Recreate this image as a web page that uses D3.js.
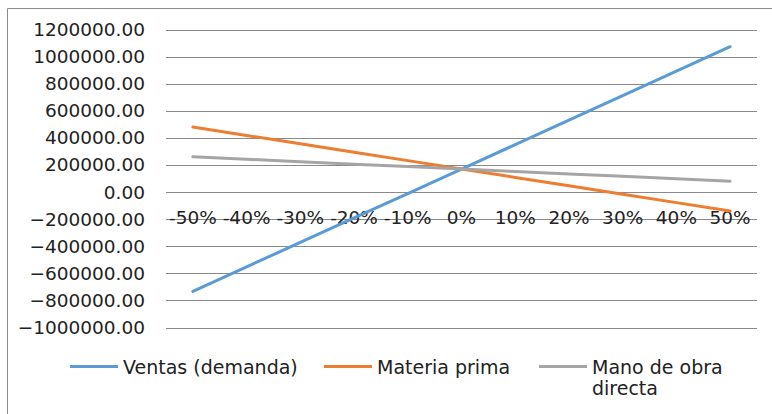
<!DOCTYPE html>
<html>
<head>
<meta charset="utf-8">
<script src="https://cdn.jsdelivr.net/npm/d3@7"></script>
<style>
  body { margin: 0; background: #fff; }
</style>
</head>
<body>
<div id="chart"></div>
<script>
// categories (change %) and series values
var categories = ['-50%', '-40%', '-30%', '-20%', '-10%', '0%', '10%', '20%', '30%', '40%', '50%'];
var ventas = [-733000, -552000, -372000, -191000, -11000, 170000, 350000, 531000, 712000, 892000, 1073000];
var materia = [480000, 418000, 356000, 294000, 232000, 170000, 108000, 46000, -16000, -78000, -140000];
var manoObra = [260000, 242000, 224000, 206000, 188000, 170000, 152000, 134000, 116000, 98000, 80000];
var yTicks = [1200000, 1000000, 800000, 600000, 400000, 200000, 0, -200000, -400000, -600000, -800000, -1000000];
var seriesNames = ['Ventas (demanda)', 'Materia prima', 'Mano de obra directa'];

var width = 772;
var height = 414;
var colors = ['#5b9bd5', '#ed7d31', '#a5a5a5'];
var gridColor = '#8a8a8a';
var font = 'DejaVu Sans';

var svg = d3.select('#chart').append('svg')
  .attr('width', width)
  .attr('height', height);

// chart border (right / bottom fall outside the picture)
svg.append('path')
  .attr('d', 'M7.5,' + height + 'V8.5H' + width)
  .style('fill', 'none')
  .style('stroke', '#8c8c8c')
  .style('stroke-width', 1);

var x = d3.scaleBand()
  .domain(categories)
  .range([166, 757]);

var y = d3.scaleLinear()
  .domain([-1000000, 1200000])
  .range([327.5, 29.5]);

function cx(d) { return x(d) + x.bandwidth() / 2; }

// gridlines
svg.append('g')
  .selectAll('line')
  .data(yTicks)
  .enter()
  .append('line')
  .attr('x1', 166)
  .attr('x2', 757)
  .attr('y1', function (d) { return Math.round(y(d)) + 0.5; })
  .attr('y2', function (d) { return Math.round(y(d)) + 0.5; })
  .style('stroke', gridColor)
  .style('stroke-width', 1);

// y axis labels
svg.append('g')
  .selectAll('text')
  .data(yTicks)
  .enter()
  .append('text')
  .attr('x', 145)
  .attr('y', function (d) { return y(d) + 6.5; })
  .attr('text-anchor', 'end')
  .style('font-family', font)
  .style('font-size', '18.5px')
  .style('fill', '#222')
  .text(function (d) { return d3.format('.2f')(d); });

// x axis labels, placed just under the 0 line like Excel does
svg.append('g')
  .selectAll('text')
  .data(categories)
  .enter()
  .append('text')
  .attr('x', function (d) { return cx(d); })
  .attr('y', y(0) + 32)
  .attr('text-anchor', 'middle')
  .style('font-family', font)
  .style('font-size', '18.5px')
  .style('fill', '#222')
  .text(function (d) { return d; });

// lines
var line = d3.line()
  .x(function (d, i) { return cx(categories[i]); })
  .y(function (d) { return y(d); });

[ventas, materia, manoObra].forEach(function (s, i) {
  svg.append('path')
    .datum(s)
    .attr('d', line)
    .style('fill', 'none')
    .style('stroke', colors[i])
    .style('stroke-width', 3)
    .style('stroke-linecap', 'round');
});

// legend
var legendX = [70, 324, 539];
var legend = svg.append('g')
  .selectAll('g')
  .data(seriesNames)
  .enter()
  .append('g')
  .attr('transform', function (d, i) { return 'translate(' + legendX[i] + ',366.5)'; });

legend.append('line')
  .attr('x1', 0)
  .attr('x2', 48)
  .style('stroke', function (d, i) { return colors[i]; })
  .style('stroke-width', 3);

legend.append('text')
  .attr('y', 7.5)
  .style('font-family', font)
  .style('font-size', '19px')
  .style('fill', '#222')
  .each(function (d) {
    var words = d === 'Mano de obra directa' ? ['Mano de obra', 'directa'] : [d];
    var t = d3.select(this);
    words.forEach(function (w, j) {
      t.append('tspan')
        .attr('x', 53)
        .attr('dy', j === 0 ? 0 : 21)
        .text(w);
    });
  });
</script>
</body>
</html>
